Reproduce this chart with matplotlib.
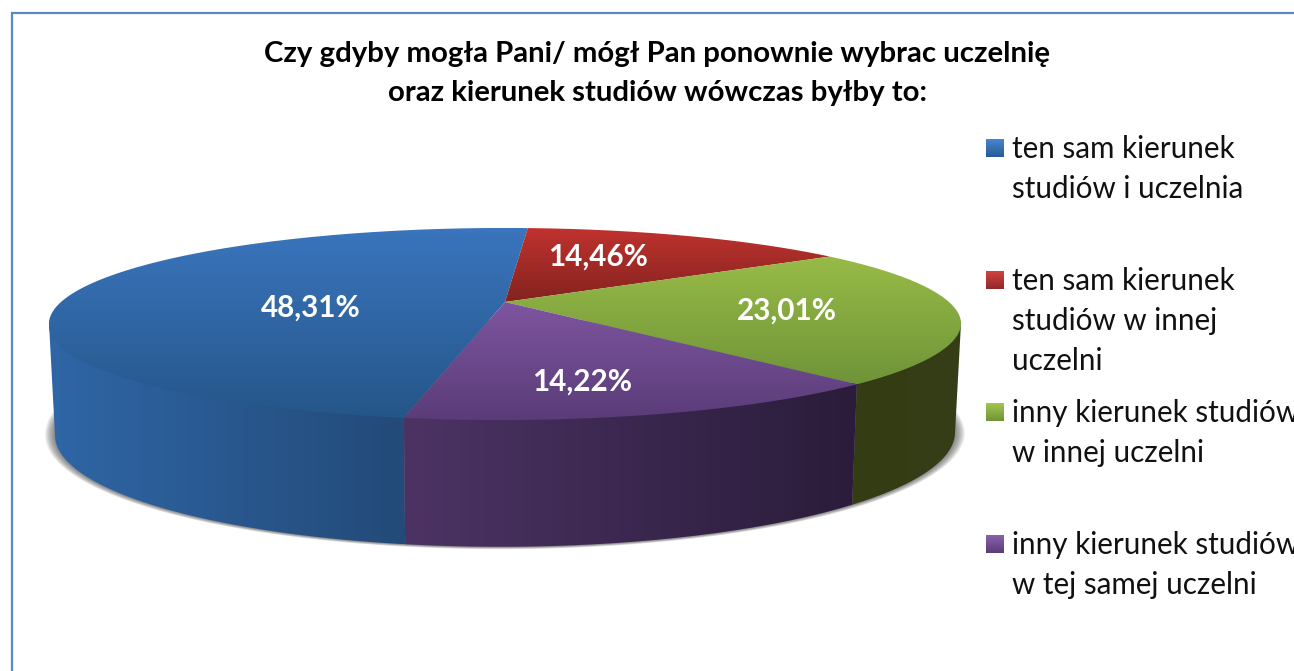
import numpy as np
import matplotlib
matplotlib.use('Agg')
import matplotlib.pyplot as plt
from matplotlib.path import Path
from matplotlib.patches import PathPatch

plt.rcParams['font.family'] = ['Lato', 'DejaVu Sans']

title_lines = ['Czy gdyby mogła Pani/ mógł Pan ponownie wybrac uczelnię',
               'oraz kierunek studiów wówczas byłby to:']
shares = [48.31, 14.46, 23.01, 14.22]
legend_labels = [['ten sam kierunek', 'studiów i uczelnia'],
                 ['ten sam kierunek', 'studiów w innej', 'uczelni'],
                 ['inny kierunek studiów', 'w innej uczelni'],
                 ['inny kierunek studiów', 'w tej samej uczelni']]

# gradient colours for each slice
top_light = ['#3a75bd', '#c0322e', '#98bb47', '#7e55a0']
top_dark = ['#255689', '#83231f', '#6f9438', '#5a3c78']
wall_left = ['#2f66a6', '#83231f', '#343c14', '#4c3364']
wall_right = ['#234a78', '#83231f', '#353e16', '#2a1c3a']
leg_light = ['#4a86ce', '#cf4440', '#a3c651', '#8a62ae']
leg_dark = ['#255a96', '#92282a', '#6f9438', '#5a3c78']

# layout in pixels
W, H = 1294, 671
CX, K = 505, 0.229
label_xy = [(311, 308), (598, 257), (787, 311), (582, 382)]
legend_y = [158, 290, 422, 554]


def top_rim(t):
    u, v = np.sin(t), np.cos(t)
    d = 1 + K * v
    # small lean of the front edge to the left, as in the picture
    lean = 6 * np.maximum(0, -v - K)
    return CX + 444 * u / d - lean, 302 - 91 * v / d


def bottom_rim(t):
    u, v = np.sin(t), np.cos(t)
    d = 1 + K * v
    lean = 6 * np.maximum(0, -v - K)
    return CX + 438 * u / d - lean, 408 - 107 * v / d


def gradient(ax, clip, c0, c1, box, vertical=True):
    x0, x1, y0, y1 = box
    a = np.array(matplotlib.colors.to_rgb(c0))
    b = np.array(matplotlib.colors.to_rgb(c1))
    s = np.linspace(0, 1, 256)[:, None]
    img = a + (b - a) * s
    img = img[:, None, :] if vertical else img[None, :, :]
    im = ax.imshow(img, extent=(x0, x1, y1, y0), aspect='auto', interpolation='bilinear', zorder=2)
    patch = PathPatch(clip, transform=ax.transData, fc='none', ec='none')
    ax.add_patch(patch)
    im.set_clip_path(patch)


fig = plt.figure(figsize=(W / 100, H / 100), dpi=100)
ax = fig.add_axes([0, 0, 1, 1])
ax.set_xlim(0, W)
ax.set_ylim(H, 0)
ax.axis('off')

# chart frame
ax.plot([11.5, 11.5, W], [H, 12.5, 12.5], color='#5b87c5', lw=1.6, zorder=1, solid_joinstyle='miter')

# soft shadow under the pie
tt = np.linspace(0, 2 * np.pi, 300)
sx, sy = bottom_rim(tt)
for grow in np.linspace(1.022, 1.0, 10):
    ax.fill(CX + (sx - CX) * grow, 436 + (sy - 436) * grow, color='#404040', alpha=0.09, lw=0, zorder=1.5)

# slice angles, clockwise from the back of the pie
fracs = np.array(shares) / sum(shares)
start = np.deg2rad(189.7)
edges = start + np.concatenate([[0], np.cumsum(fracs)]) * 2 * np.pi
side = np.arccos(-K)

# outer walls, only the front part is visible
for i in range(len(shares)):
    for shift in [0, 2 * np.pi]:
        a, b = max(edges[i] - shift, side), min(edges[i + 1] - shift, 2 * np.pi - side)
        if b <= a:
            continue
        t = np.linspace(a, b, 120)
        x1, y1 = top_rim(t)
        x2, y2 = bottom_rim(t)
        # run a little under the top surface so no seam shows
        px = np.concatenate([x1, x2[::-1]])
        py = np.concatenate([y1 - 3, y2[::-1]])
        clip = Path(np.column_stack([px, py]))
        gradient(ax, clip, wall_left[i], wall_right[i],
                 (px.min(), px.max(), py.min(), py.max()), vertical=False)

# top surface
for i in range(len(shares)):
    t = np.linspace(edges[i], edges[i + 1], 200)
    x, y = top_rim(t)
    px = np.concatenate([[CX], x, [CX]])
    py = np.concatenate([[302], y, [302]])
    clip = Path(np.column_stack([px, py]))
    gradient(ax, clip, top_light[i], top_dark[i], (px.min(), px.max(), py.min(), py.max()))

# value labels
for v, (x, y) in zip(shares, label_xy):
    ax.text(x, y, f'{v:.2f}'.replace('.', ',') + '%', color='white', fontsize=21.3, fontweight='bold',
            ha='center', va='center', zorder=5)

# title
ax.text(657, 54, title_lines[0], fontsize=21.15, fontweight='bold', ha='center', va='center', color='black', zorder=5)
ax.text(657, 93, title_lines[1], fontsize=21.15, fontweight='bold', ha='center', va='center', color='black', zorder=5)

# legend
for i, lines in enumerate(legend_labels):
    y = legend_y[i]
    box = Path([(986, y - 19), (1004, y - 19), (1004, y - 1), (986, y - 1), (986, y - 19)])
    gradient(ax, box, leg_light[i], leg_dark[i], (986, 1004, y - 19, y - 1))
    for j, line in enumerate(lines):
        ax.text(1012, y + j * 40, line, fontsize=21.35, color='#111111', ha='left', va='baseline', zorder=5)

ax.set_xlim(0, W)
ax.set_ylim(H, 0)
fig.savefig('out.png', dpi=100, facecolor='white')
